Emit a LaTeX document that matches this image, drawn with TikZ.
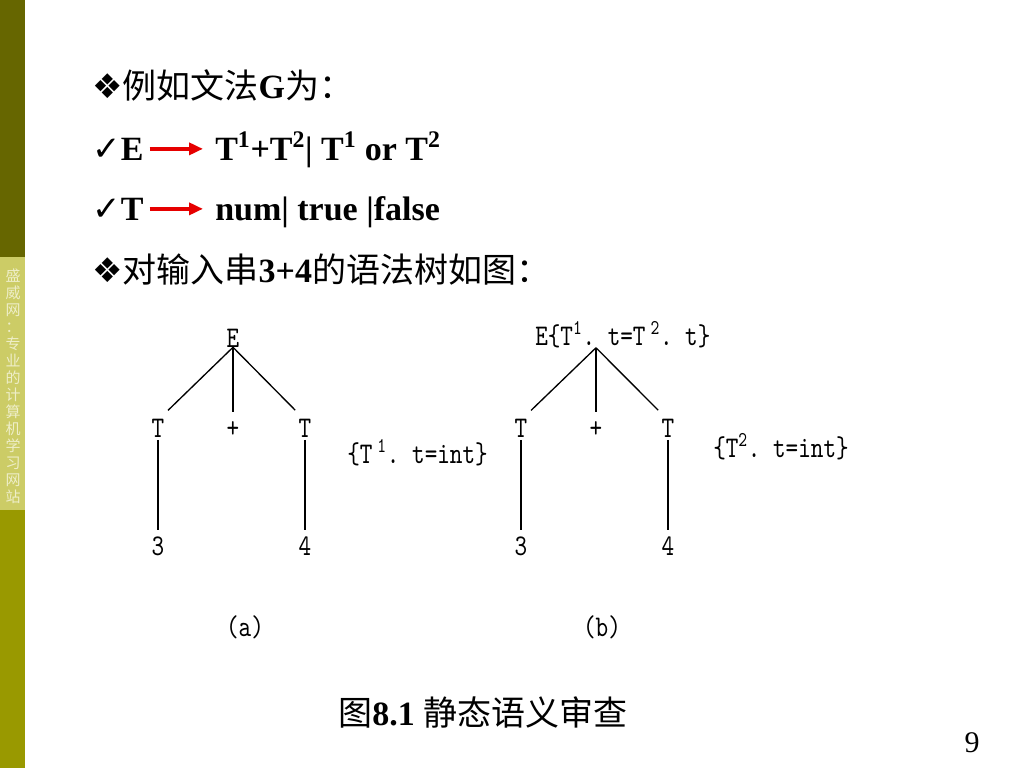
\documentclass[tikz,border=0pt]{standalone}
\usepackage{fontspec}
\setmainfont{Liberation Serif}
\newfontfamily\cjk{Noto Sans CJK SC}
\newfontfamily\sym{DejaVu Sans}
\newfontfamily\treemono{lmmono10-regular.otf}[FakeStretch=0.8]
\usetikzlibrary{arrows.meta}

\definecolor{barDark}{RGB}{102,102,0}
\definecolor{barLight}{RGB}{204,204,102}
\definecolor{barMid}{RGB}{153,153,0}
\definecolor{barText}{RGB}{238,238,200}

\newcommand{\slidefont}{\fontsize{25.5}{30}\selectfont}
\newcommand{\treefont}{\treemono\fontsize{22.5}{26}\selectfont\frenchspacing}

\begin{document}
\begin{tikzpicture}[x=0.75pt,y=0.75pt,yscale=-1,xscale=1,
  txt/.style={anchor=base west,inner sep=0pt,font=\slidefont},
  tnode/.style={anchor=base,inner sep=0pt,text height=12.5pt,text depth=0pt,font=\treefont},
  tnote/.style={anchor=base west,inner sep=0pt,font=\treefont},
  branch/.style={line width=1pt},
  prod/.style={color={rgb, 255:red, 230; green, 0; blue, 0 },line width=3pt,-{Triangle[length=10.5pt,width=9pt]},shorten <=4.5pt,shorten >=9pt}]
\useasboundingbox (0,0) rectangle (1024,768);
\fill [white] (0,0) rectangle (1024,768);

%Shape: side bar
\fill [barDark] (0,0) rectangle (25,257);
\fill [barLight] (0,257) rectangle (25,510);
\fill [barMid] (0,510) rectangle (25,768);
% Text Node
\node (siteName) at (13,386) [align=center,inner sep=0pt,text=barText,font=\cjk\fontsize{11.25}{12.75}\selectfont] {盛\\威\\网\\：\\专\\业\\的\\计\\算\\机\\学\\习\\网\\站};

% Text Node
\node (gramIntro) at (92,98) [txt] {{\sym ❖}{\cjk 例如文法}\textbf{G}{\cjk 为：}};
% Text Node
\node (lhsE) at (92,160) [txt] {{\sym ✓}\textbf{E}};
\node (rhsE) at (215,160) [txt] {\textbf{T\textsuperscript{1}+T\textsuperscript{2}| T\textsuperscript{1} or T\textsuperscript{2}}};
% Text Node
\node (lhsT) at (92,220) [txt] {{\sym ✓}\textbf{T}};
\node (rhsT) at (215,220) [txt] {\textbf{num| true |false}};
% Text Node
\node (treeIntro) at (92,282) [txt] {{\sym ❖}{\cjk 对输入串}\textbf{3+4}{\cjk 的语法树如图：}};

%Straight Lines: productions
\draw [prod] (lhsE.east) -- (lhsE.east -| rhsE.west);
\draw [prod] (lhsT.east) -- (lhsT.east -| rhsT.west);

% Tree (a)
\node (Ea) at (233,347) [tnode] {E};
\node (Ta1) at (158,437) [tnode] {T};
\node (Pa) at (233,437) [tnode] {+};
\node (Ta2) at (305,437) [tnode] {T};
\node (Na1) at (158,555) [tnode] {3};
\node (Na2) at (305,555) [tnode] {4};
\node (noteA) at (347,463) [tnote] {\{T\,\textsuperscript{1}. t=int\}};
\node (capA) at (245,636) [tnode] {(a)};
\draw [branch,shorten >=10.5pt] (Ea.south) -- (Ta1.north);
\draw [branch,shorten >=6pt] (Ea.south) -- (Pa.north);
\draw [branch,shorten >=10.5pt] (Ea.south) -- (Ta2.north);
\draw [branch,shorten <=2pt,shorten >=6pt] (Ta1.south) -- (Na1.north);
\draw [branch,shorten <=2pt,shorten >=6pt] (Ta2.south) -- (Na2.north);

% Tree (b)
\node (Eb) at (535,345) [tnote] {E\{T\textsuperscript{1}. t=T\,\textsuperscript{2}. t\}};
\node (Tb1) at (521,437) [tnode] {T};
\node (Pb) at (596,437) [tnode] {+};
\node (Tb2) at (668,437) [tnode] {T};
\node (Nb1) at (521,555) [tnode] {3};
\node (Nb2) at (668,555) [tnode] {4};
\node (noteB) at (713,457) [tnote] {\{T\textsuperscript{2}. t=int\}};
\node (capB) at (602,636) [tnode] {(b)};
\draw [branch,shorten >=10.5pt] (Eb.south -| Pb) -- (Tb1.north);
\draw [branch,shorten >=6pt] (Eb.south -| Pb) -- (Pb.north);
\draw [branch,shorten >=10.5pt] (Eb.south -| Pb) -- (Tb2.north);
\draw [branch,shorten <=2pt,shorten >=6pt] (Tb1.south) -- (Nb1.north);
\draw [branch,shorten <=2pt,shorten >=6pt] (Tb2.south) -- (Nb2.north);

% Text Node
\node (figCap) at (338,725) [txt] {{\cjk 图}\textbf{8.1} {\cjk 静态语义审查}};
% Text Node
\node (pageNo) at (980,752) [anchor=base east,inner sep=0pt,font=\fontsize{22.5}{26}\selectfont] {9};
\end{tikzpicture}
\end{document}
